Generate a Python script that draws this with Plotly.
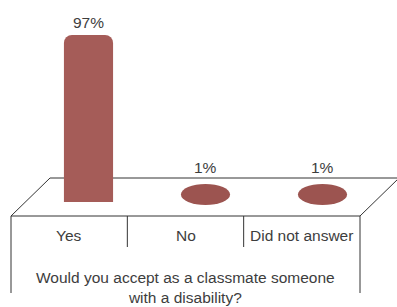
import plotly.graph_objects as go

# ---- data ----
categories = ["Yes", "No", "Did not answer"]
values = [97, 1, 1]
value_labels = ["97%", "1%", "1%"]
title_text = "Would you accept as a classmate someone<br>with a disability?"

W, H = 397, 307
BAR_COLOR = "#a55c58"
DISC_COLOR = "#9c5450"
LINE = "#333333"
TXT = "#3d3d3d"
FONT = "Liberation Sans, Arial, sans-serif"
FS = 15.5

# y scale: value 0 at pixel 202, 97 at pixel 35
base_px, top_px = 202, 35
k = (base_px - top_px) / 97.0
ymax = 97 + top_px / k
ymin = -(H - base_px) / k

bar_w = 0.42
disc_up_px, disc_down_px = 16.3, 4.7   # disc extents relative to the bar top, in pixels
DISC_MIN_PX = 21                       # bars shorter than this are drawn as discs

is_disc = [v * k < DISC_MIN_PX for v in values]
bar_colors = ["rgba(0,0,0,0)" if d else BAR_COLOR for d in is_disc]

fig = go.Figure()
fig.add_trace(go.Bar(
    x=list(range(len(categories))), y=values, width=bar_w,
    marker=dict(color=bar_colors, line=dict(width=0), cornerradius=8),
    hoverinfo="skip", showlegend=False,
))


def py(y):
    return 1 - y / H


def pxx(x):
    return x / W


shapes = []
annotations = []
for i, (v, lab, d) in enumerate(zip(values, value_labels, is_disc)):
    if d:
        y0 = v - disc_down_px / k
        y1 = v + disc_up_px / k
        shapes.append(dict(type="circle", xref="x", yref="y",
                           x0=i - bar_w / 2, x1=i + bar_w / 2, y0=y0, y1=y1,
                           fillcolor=DISC_COLOR, line=dict(width=0), layer="above"))
        annotations.append(dict(x=i, y=y1, xref="x", yref="y", text=lab,
                                showarrow=False, xanchor="center", yanchor="bottom", yshift=6,
                                font=dict(family=FONT, size=FS, color=TXT)))
    else:
        annotations.append(dict(x=i, y=v, xref="x", yref="y", text=lab,
                                showarrow=False, xanchor="center", yanchor="bottom", yshift=2,
                                font=dict(family=FONT, size=FS, color=TXT)))

# floor / front panel frame (decoration, pixel geometry)
front_y, back_y, depth = 216, 178, 38
left_x, right_x, bottom_y = 11, 360, 293
div_bottom = 247


def seg(x0, y0, x1, y1):
    return dict(type="line", xref="paper", yref="paper",
                x0=pxx(x0), y0=py(y0), x1=pxx(x1), y1=py(y1),
                line=dict(color=LINE, width=1), layer="below")


shapes += [
    seg(left_x + depth + 1, back_y, right_x + depth + 1, back_y),
    seg(left_x, front_y, left_x + depth + 1, back_y),
    seg(right_x, front_y, right_x + depth + 1, back_y),
    seg(left_x, front_y, right_x, front_y),
    seg(left_x, front_y, left_x, bottom_y),
    seg(right_x, front_y, right_x, bottom_y),
]
cell = (right_x - left_x) / len(categories)
for j in range(1, len(categories)):
    xx = left_x + j * cell
    shapes.append(seg(xx, front_y, xx, div_bottom))

for j, c in enumerate(categories):
    cx = left_x + (j + 0.5) * cell
    annotations.append(dict(x=pxx(cx), y=py(235), xref="paper", yref="paper",
                            text=c, showarrow=False, xanchor="center", yanchor="middle",
                            font=dict(family=FONT, size=FS, color=TXT)))

annotations.append(dict(x=pxx((left_x + right_x) / 2), y=py(287), xref="paper", yref="paper",
                        text=title_text, showarrow=False, xanchor="center", yanchor="middle",
                        font=dict(family=FONT, size=FS, color=TXT)))

fig.update_layout(
    width=W, height=H,
    margin=dict(l=0, r=0, t=0, b=0),
    paper_bgcolor="white", plot_bgcolor="rgba(0,0,0,0)",
    xaxis=dict(domain=[30 / W, 381 / W], range=[-0.5, 2.5], visible=False, fixedrange=True),
    yaxis=dict(domain=[0, 1], range=[ymin, ymax], visible=False, fixedrange=True),
    shapes=shapes, annotations=annotations,
    showlegend=False,
)

fig.write_html("out.html", config={"displayModeBar": False},
               post_script="document.body.style.margin='0';document.body.style.overflow='hidden';")
